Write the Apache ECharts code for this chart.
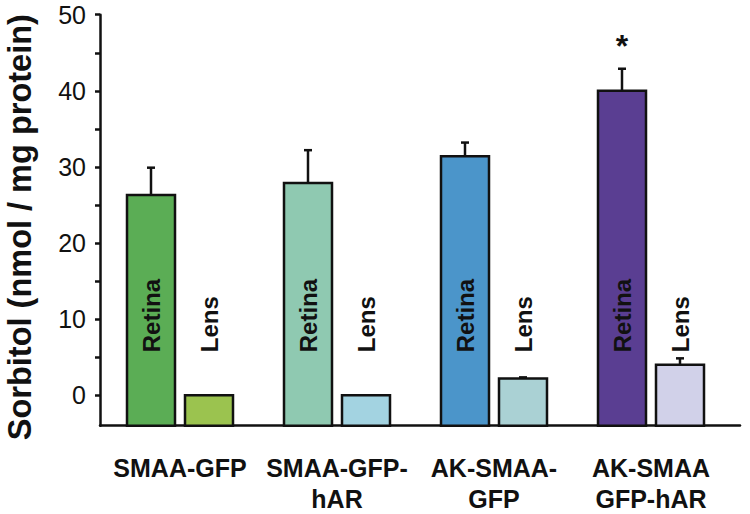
<!DOCTYPE html>
<html>
<head>
<meta charset="utf-8">
<script src="https://cdn.jsdelivr.net/npm/echarts@6/dist/echarts.min.js"></script>
<style>html,body{margin:0;padding:0;background:#fff}#c{width:750px;height:514px}</style>
</head>
<body>
<div id="c"></div>
<script>
// ---- data ----
const categories = ['SMAA-GFP', 'SMAA-GFP-\nhAR', 'AK-SMAA-\nGFP', 'AK-SMAA\nGFP-hAR'];
const retinaValues = [26.3, 27.9, 31.4, 40.0];
const retinaErrors = [3.6, 4.3, 1.8, 2.9];
const lensValues = [0.0, 0.0, 2.2, 4.0];
const lensErrors = [0, 0, 0.15, 0.85];
const significance = ['', '', '', '*'];
const retinaColors = ['#5BAD55', '#8FC9B1', '#4B95CA', '#5A3E92'];
const lensColors = ['#9BC34F', '#A3D3E1', '#AAD1D4', '#D1D1E9'];
const yTickLabels = [0, 10, 20, 30, 40, 50];
const yTicks = [0, 5, 10, 15, 20, 25, 30, 35, 40, 45, 50];
const Y_MIN = -4, Y_MAX = 50;

// ---- style constants ----
const FONT = '"Liberation Sans", Arial, Helvetica, sans-serif';
const INK = '#111111';
const BAR_W = 48, BAR_GAP = 10;

function makeRender(kind) {
  return function (params, api) {
    const ci = api.value(0), v = api.value(1), e = api.value(2);
    const idx = params.dataIndex;
    const gc = api.coord([ci, 0])[0];
    const off = (BAR_W + BAR_GAP) / 2;
    const cx = kind === 'retina' ? gc - off : gc + off;
    const bottom = api.coord([ci, Y_MIN])[1];
    const top = api.coord([ci, v])[1];
    const zeroY = api.coord([ci, 0])[1];
    const children = [{
      type: 'rect',
      shape: { x: cx - BAR_W / 2, y: top, width: BAR_W, height: bottom - top },
      style: { fill: kind === 'retina' ? retinaColors[idx] : lensColors[idx], stroke: INK, lineWidth: 2.5 }
    }];
    if (e > 0) {
      const et = api.coord([ci, v + e])[1];
      children.push({ type: 'line', shape: { x1: cx, y1: top, x2: cx, y2: et }, style: { stroke: INK, lineWidth: 2.5 } });
      children.push({ type: 'line', shape: { x1: cx - 4, y1: et, x2: cx + 4, y2: et }, style: { stroke: INK, lineWidth: 2.5 } });
    }
    children.push({
      type: 'text', x: cx, y: zeroY - 43, rotation: Math.PI / 2,
      style: { text: kind === 'retina' ? 'Retina' : 'Lens', fontSize: 24, fontWeight: 'bold', fontFamily: FONT, fill: INK, align: 'left', verticalAlign: 'middle' }
    });
    if (kind === 'retina' && significance[idx]) {
      const et = api.coord([ci, v + e])[1];
      children.push({
        type: 'text', x: cx, y: et - 23,
        style: { text: significance[idx], fontSize: 32, fontWeight: 'bold', fontFamily: FONT, fill: INK, align: 'center', verticalAlign: 'middle' }
      });
    }
    return { type: 'group', children: children };
  };
}

const chart = echarts.init(document.getElementById('c'), null, { renderer: 'svg' });
chart.setOption({
  backgroundColor: '#ffffff',
  animation: false,
  grid: [
    { left: 100, right: 10, top: 14.7, height: 411, containLabel: false, outerBoundsMode: 'none' },
    { left: 101.5, width: 628, top: 14.7, height: 411, containLabel: false, outerBoundsMode: 'none' }
  ],
  xAxis: [
    { gridIndex: 0, type: 'value', min: 0, max: 1,
      axisLine: { show: true, onZero: false, lineStyle: { color: INK, width: 2.5 } },
      axisTick: { show: false }, axisLabel: { show: false }, splitLine: { show: false } },
    { gridIndex: 1, type: 'category', data: categories,
      axisLine: { show: false, onZero: false }, axisTick: { show: false }, splitLine: { show: false },
      axisLabel: { interval: 0, margin: 26.5, fontSize: 25, fontWeight: 'bold', fontFamily: FONT, color: INK, lineHeight: 31, align: 'center' } }
  ],
  yAxis: [
    { gridIndex: 0, type: 'value', min: Y_MIN, max: Y_MAX,
      name: 'Sorbitol (nmol / mg protein)', nameLocation: 'middle', nameRotate: 90, nameGap: 64,
      nameTextStyle: { fontSize: 32.5, fontWeight: 'bold', fontFamily: FONT, color: INK, lineHeight: 32, padding: [0, 14, 0, 0] },
      axisLine: { show: true, onZero: false, lineStyle: { color: INK, width: 2.5 } },
      axisTick: { show: true, inside: false, length: 5, customValues: yTicks, lineStyle: { color: INK, width: 2.5 } },
      axisLabel: { customValues: yTickLabels, margin: 14, fontSize: 25, fontFamily: FONT, color: INK },
      splitLine: { show: false } },
    { gridIndex: 1, type: 'value', min: Y_MIN, max: Y_MAX, show: false, splitLine: { show: false } }
  ],
  series: [
    { type: 'custom', name: 'Retina', xAxisIndex: 1, yAxisIndex: 1,
      renderItem: makeRender('retina'),
      data: retinaValues.map((v, i) => [i, v, retinaErrors[i]]) },
    { type: 'custom', name: 'Lens', xAxisIndex: 1, yAxisIndex: 1,
      renderItem: makeRender('lens'),
      data: lensValues.map((v, i) => [i, v, lensErrors[i]]) }
  ]
});
</script>
</body>
</html>
